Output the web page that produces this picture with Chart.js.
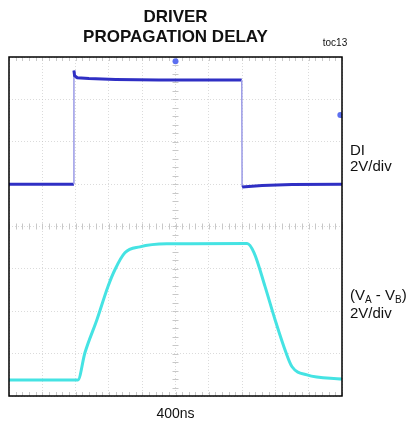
<!DOCTYPE html>
<html lang="en">
<head>
<meta charset="UTF-8">
<title>Driver Propagation Delay</title>
<script src="https://cdn.jsdelivr.net/npm/chart.js"></script>
<style>
    html, body { margin: 0; padding: 0; background: #fff; }
    #wrap { width: 407px; height: 425px; }
</style>
</head>
<body>
<div id="wrap"><canvas id="scope"></canvas></div>
<script>
// horizontal position in divisions (0..10), vertical in divisions (0..8)
const diX = [0, 1.95, 1.95, 1.97, 2.05, 2.4, 3.2, 4.5, 6.99, 7.0, 7.1, 7.6, 8.5, 10];
const diY = [5.0, 5.0, 7.68, 7.56, 7.51, 7.49, 7.47, 7.46, 7.46, 4.93, 4.94, 4.97, 4.99, 5.0];

const diffX = [0, 2.07, 2.28, 2.64, 2.97, 3.18, 3.48, 3.93, 4.74, 7.15, 7.36, 7.69, 7.99, 8.32, 8.5, 8.95, 10];
const diffY = [0.38, 0.38, 1.02, 1.8, 2.58, 2.98, 3.38, 3.52, 3.59, 3.6, 3.38, 2.58, 1.8, 1.02, 0.69, 0.5, 0.4];

// scope marker blobs (trigger point and level)
const markX = [5.0, 9.95];
const markY = [7.9, 6.63];

const titleLines = ['DRIVER', 'PROPAGATION DELAY'];
const timeLabel = '400ns';

const toPoints = (xs, ys) => xs.map((x, i) => ({ x: x, y: ys[i] }));

// draws frame, graticule ticks and all text around the screen
const scopeDecor = {
    id: 'scopeDecor',
    beforeDatasetsDraw(chart) {
        const { ctx, chartArea: a, scales: { x, y } } = chart;
        ctx.save();
        ctx.strokeStyle = '#c8c8c8';
        ctx.lineWidth = 1;
        const cx = x.getPixelForValue(5), cy = y.getPixelForValue(4);
        for (let v = 0; v <= 10.001; v += 0.2) {
            const px = Math.round(x.getPixelForValue(v)) + 0.5;
            ctx.beginPath();
            ctx.moveTo(px, cy - 3); ctx.lineTo(px, cy + 3);
            ctx.moveTo(px, a.top); ctx.lineTo(px, a.top + 4);
            ctx.moveTo(px, a.bottom); ctx.lineTo(px, a.bottom - 4);
            ctx.stroke();
        }
        for (let v = 0; v <= 8.001; v += 0.2) {
            const py = Math.round(y.getPixelForValue(v)) + 0.5;
            ctx.beginPath();
            ctx.moveTo(cx - 3, py); ctx.lineTo(cx + 3, py);
            ctx.stroke();
        }
        ctx.restore();
    },
    afterDraw(chart) {
        const { ctx, chartArea: a } = chart;
        ctx.save();
        ctx.strokeStyle = '#000';
        ctx.lineWidth = 1.5;
        ctx.strokeRect(a.left, a.top, a.right - a.left, a.bottom - a.top);

        const mid = (a.left + a.right) / 2;
        ctx.fillStyle = '#111';
        ctx.textAlign = 'center';
        ctx.textBaseline = 'middle';
        ctx.font = 'bold 17px "Liberation Sans Narrow", "Liberation Sans", Arial, sans-serif';
        ctx.fillText(titleLines[0], mid, 17);
        ctx.fillText(titleLines[1], mid, 37);

        ctx.font = '10px "Liberation Sans", Arial, sans-serif';
        ctx.fillText('toc13', 335, 43);

        ctx.font = '14px "Liberation Sans", Arial, sans-serif';
        ctx.fillText(timeLabel, mid, 414);

        ctx.textAlign = 'left';
        const lx = 350;
        ctx.font = '15px "Liberation Sans", Arial, sans-serif';
        ctx.fillText('DI', lx, 151);
        ctx.fillText('2V/div', lx, 167);

        // (VA - VB) with subscripts
        let px = lx;
        const parts = [['(V', 0], ['A', 1], [' - V', 0], ['B', 1], [')', 0]];
        parts.forEach(([t, sub]) => {
            ctx.font = (sub ? '10px' : '15px') + ' "Liberation Sans", Arial, sans-serif';
            ctx.fillText(t, px, sub ? 300 : 296);
            px += ctx.measureText(t).width;
        });
        ctx.font = '15px "Liberation Sans", Arial, sans-serif';
        ctx.fillText('2V/div', lx, 314);
        ctx.restore();
    }
};

const gridColor = 'rgba(190,190,190,0.55)';

new Chart(document.getElementById('scope'), {
    type: 'line',
    data: {
        datasets: [
            {
                label: 'DI',
                data: toPoints(diX, diY),
                borderColor: '#2f2fc4',
                borderWidth: 3,
                pointRadius: 0,
                tension: 0,
                segment: {
                    borderColor: c => (Math.abs(c.p0.parsed.y - c.p1.parsed.y) > 1 ? '#9a9ae6' : undefined),
                    borderWidth: c => (Math.abs(c.p0.parsed.y - c.p1.parsed.y) > 1 ? 1.5 : undefined)
                }
            },
            {
                label: '(VA - VB)',
                data: toPoints(diffX, diffY),
                borderColor: '#45e3e3',
                borderWidth: 3,
                pointRadius: 0,
                cubicInterpolationMode: 'monotone'
            },
            {
                label: 'markers',
                data: toPoints(markX, markY),
                showLine: false,
                pointRadius: 3,
                pointBackgroundColor: '#5c6ff0',
                pointBorderWidth: 0
            }
        ]
    },
    options: {
        responsive: true,
        maintainAspectRatio: false,
        animation: false,
        layout: { padding: { left: 9, top: 57, right: 65, bottom: 29 } },
        plugins: {
            legend: { display: false },
            tooltip: { enabled: false }
        },
        scales: {
            x: {
                type: 'linear', min: 0, max: 10,
                ticks: { display: false, stepSize: 1 },
                grid: { color: gridColor, drawTicks: false },
                border: { display: false, dash: [1, 2] }
            },
            y: {
                type: 'linear', min: 0, max: 8,
                ticks: { display: false, stepSize: 1 },
                grid: { color: gridColor, drawTicks: false },
                border: { display: false, dash: [1, 2] }
            }
        }
    },
    plugins: [scopeDecor]
});
</script>
</body>
</html>
